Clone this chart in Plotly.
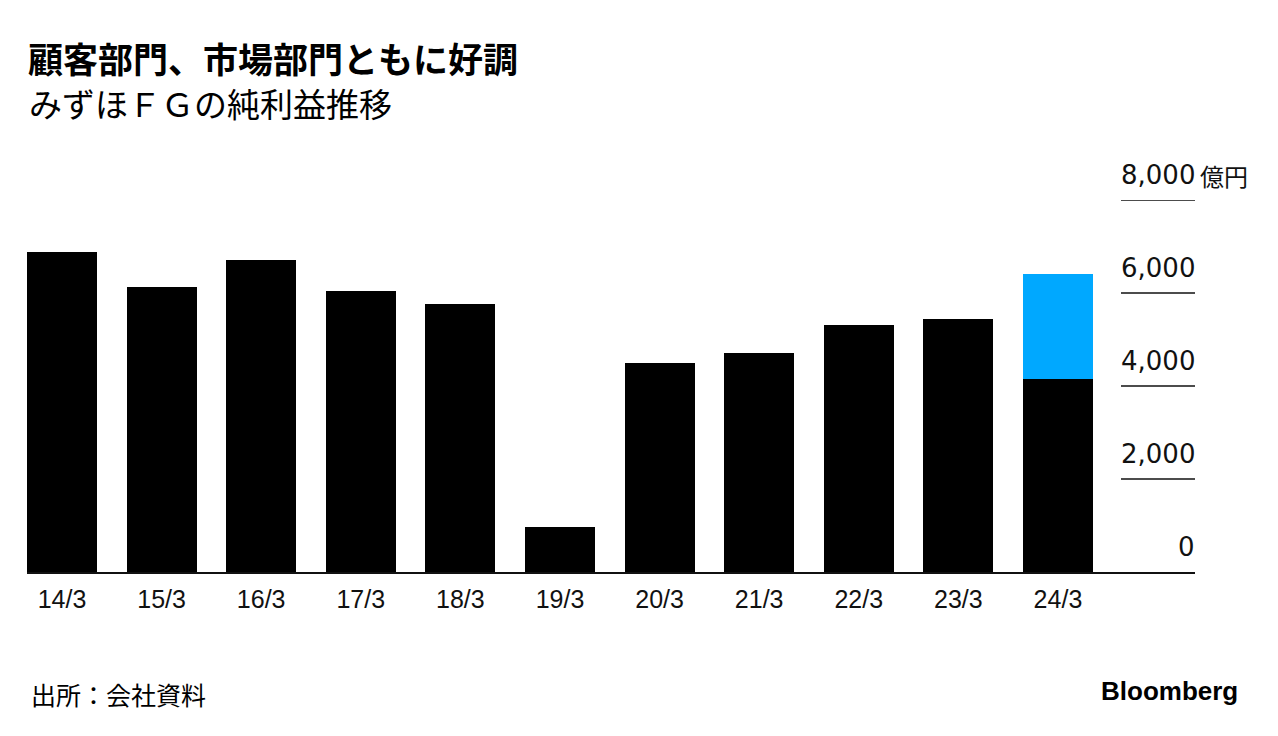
import plotly.graph_objects as go

# Data (億円)
categories = ["14/3", "15/3", "16/3", "17/3", "18/3", "19/3", "20/3", "21/3", "22/3", "23/3", "24/3"]
net_income = [6888, 6119, 6709, 6035, 5765, 965, 4485, 4710, 5305, 5450, 4160]
remaining_forecast = [None, None, None, None, None, None, None, None, None, None, 2240]
y_ticks = [0, 2000, 4000, 6000, 8000]
y_tick_labels = ["0", "2,000", "4,000", "6,000", "8,000"]

W, H = 1278, 736
ML, MR, MT, MB = 27, 83, 200, 164

fig = go.Figure()
fig.add_trace(go.Bar(x=categories, y=net_income, marker=dict(color="#000000", line=dict(width=0)),
                     showlegend=False, hoverinfo="x+y"))
fig.add_trace(go.Bar(x=categories, y=remaining_forecast, marker=dict(color="#00a8ff", line=dict(width=0)),
                     showlegend=False, hoverinfo="x+y"))

plot_w = W - ML - MR
plot_h = H - MT - MB
grid_x0 = (1121 - ML) / plot_w

shapes = []
for v in y_ticks[1:]:
    shapes.append(dict(type="line", xref="paper", yref="y", x0=grid_x0, x1=1, y0=v, y1=v,
                       line=dict(color="#111111", width=1.5), layer="above"))

annotations = []
for v, t in zip(y_ticks, y_tick_labels):
    annotations.append(dict(xref="paper", yref="y", x=1.002, y=v, text=t, showarrow=False,
                            xanchor="right", yanchor="middle", yshift=25,
                            font=dict(family="DejaVu Sans, Liberation Sans, Arial", size=26, color="#111111")))
annotations.append(dict(xref="paper", yref="y", x=1.002, y=y_ticks[-1], text="億円", showarrow=False,
                        xanchor="left", yanchor="middle", yshift=25, xshift=1,
                        font=dict(family="Noto Sans CJK JP", size=24, color="#111111")))

def py(px):
    return (H - MB - px) / plot_h

def px_x(px):
    return (px - ML) / plot_w

annotations += [
    dict(xref="paper", yref="paper", x=px_x(26), y=py(58), text="<b>顧客部門、市場部門ともに好調</b>",
         showarrow=False, xanchor="left", yanchor="middle",
         font=dict(family="Noto Sans CJK JP", size=35, color="#000000")),
    dict(xref="paper", yref="paper", x=px_x(27), y=py(103), text="みずほＦＧの純利益推移",
         showarrow=False, xanchor="left", yanchor="middle",
         font=dict(family="Noto Sans CJK JP", size=33, color="#000000")),
    dict(xref="paper", yref="paper", x=px_x(29), y=py(694), text="出所：会社資料",
         showarrow=False, xanchor="left", yanchor="middle",
         font=dict(family="Noto Sans CJK JP", size=25, color="#000000")),
    dict(xref="paper", yref="paper", x=px_x(1240), y=py(691), text="<b>Bloomberg</b>",
         showarrow=False, xanchor="right", yanchor="middle",
         font=dict(family="Liberation Sans, Arial", size=26, color="#000000")),
]

fig.update_layout(
    width=W, height=H,
    margin=dict(l=ML, r=MR, t=MT, b=MB, pad=0),
    paper_bgcolor="#ffffff", plot_bgcolor="#ffffff",
    barmode="stack", bargap=0.297,
    xaxis=dict(type="category", range=[-0.351, 11.376], showgrid=False, zeroline=False,
               showline=True, linecolor="#111111", linewidth=2, ticks="", ticklabelstandoff=4,
               tickfont=dict(family="Liberation Sans, Arial", size=25, color="#111111"),
               fixedrange=True),
    yaxis=dict(range=[0, 8000], showgrid=False, zeroline=False, showticklabels=False,
               showline=False, fixedrange=True),
    shapes=shapes, annotations=annotations,
)

fig.write_html("out.html", config={"displayModeBar": False},
               post_script="document.body.style.margin='0';document.body.style.overflow='hidden';")
